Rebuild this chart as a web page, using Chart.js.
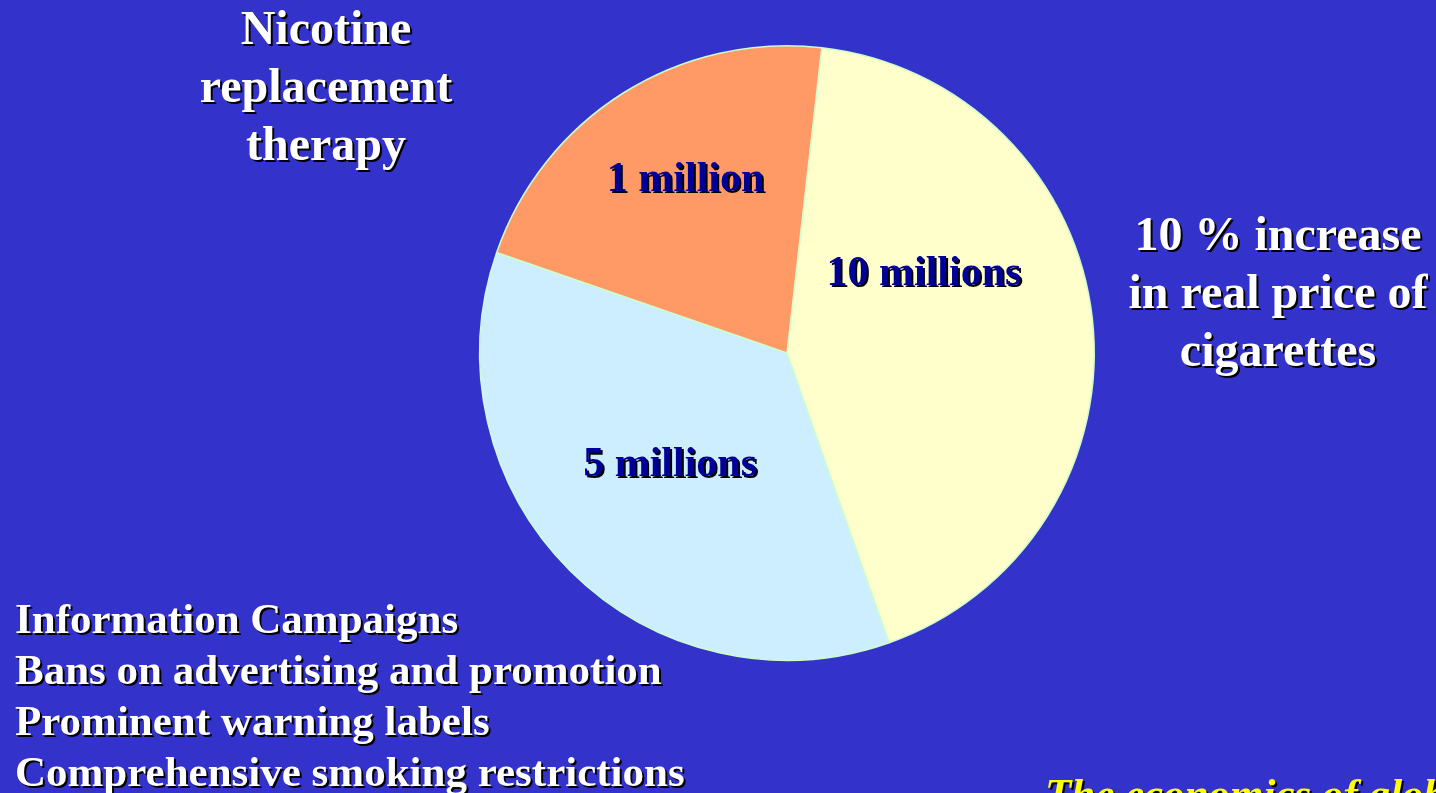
<!DOCTYPE html>
<html>
<head>
<meta charset="utf-8">
<script src="https://cdn.jsdelivr.net/npm/chart.js@4"></script>
<style>
    html, body { margin: 0; padding: 0; }
    body {
        width: 1436px; height: 793px; overflow: hidden;
        background: #3333cc; position: relative;
        font-family: "Liberation Serif", "Times New Roman", serif;
        font-weight: bold;
    }
    #chartBox { position: absolute; left: 0; top: 0; width: 1436px; height: 793px; }
    .txt { position: absolute; color: #ffffff; text-shadow: 2px 2px 0 #000000; white-space: nowrap; }
    .center { text-align: center; }
    #topLeft { left: 146px; width: 360px; top: -1px; font-size: 48px; line-height: 58px; }
    #rightTxt { left: 1110px; width: 336px; top: 205px; font-size: 48px; line-height: 58px; }
    #bottomLeft { left: 15px; top: 593px; font-size: 43px; line-height: 51px; }
    #source { left: 1045px; top: 768px; font-size: 43px; line-height: 51px; color: #ffff00; font-style: italic; }
    .sliceLabel { position: absolute; color: #000099; font-size: 42px; text-shadow: 2px 2px 0 #000000; white-space: nowrap; transform: translate(-50%, -50%); }
</style>
</head>
<body>
<div id="chartBox"><canvas id="pieChart" width="1436" height="793"></canvas></div>

<div class="txt center" id="topLeft">Nicotine<br>replacement<br>therapy</div>
<div class="txt center" id="rightTxt">10 % increase<br>in real price of<br>cigarettes</div>
<div class="txt" id="bottomLeft">Information Campaigns<br>Bans on advertising and promotion<br>Prominent warning labels<br>Comprehensive smoking restrictions</div>
<div class="txt" id="source">The economics of glob</div>

<script>
// Datos del gráfico (proporciones)
const categories = ['10 % increase in real price of cigarettes', 'Non-price measures', 'Nicotine replacement therapy'];
const sliceLabels = ['10 millions', '5 millions', '1 million'];
const sliceShares = [42.8, 35.7, 21.5];
const sliceColors = ['#ffffcc', '#cceeff', '#ff9966'];

// Posición de cada etiqueta dentro de su porción (ángulo desde arriba, fracción del radio)
const labelSpots = [
    { angle: 59, r: 0.52 },
    { angle: 227, r: 0.52 },
    { angle: 330, r: 0.66 }
];

const labelDivs = sliceLabels.map(text => {
    const d = document.createElement('div');
    d.className = 'sliceLabel';
    d.textContent = text;
    document.body.appendChild(d);
    return d;
});

const labelPlugin = {
    id: 'sliceLabels',
    afterRender(chart) {
        const arcs = chart.getDatasetMeta(0).data;
        arcs.forEach((arc, i) => {
            const a = labelSpots[i].angle * Math.PI / 180;
            const r = arc.outerRadius * labelSpots[i].r;
            labelDivs[i].style.left = (arc.x + Math.sin(a) * r) + 'px';
            labelDivs[i].style.top = (arc.y - Math.cos(a) * r) + 'px';
        });
    }
};

const ctx = document.getElementById('pieChart');
const pieChart = new Chart(ctx, {
    type: 'pie',
    data: {
        labels: categories,
        datasets: [{
            data: sliceShares,
            backgroundColor: sliceColors,
            borderColor: '#ccffcc',
            borderWidth: 1.5
        }]
    },
    options: {
        responsive: false,
        maintainAspectRatio: false,
        animation: false,
        rotation: 6.5,
        layout: { padding: { left: 479, right: 341, top: 45, bottom: 132 } },
        plugins: {
            legend: { display: false },
            tooltip: { enabled: false }
        }
    },
    plugins: [labelPlugin]
});
</script>
</body>
</html>
